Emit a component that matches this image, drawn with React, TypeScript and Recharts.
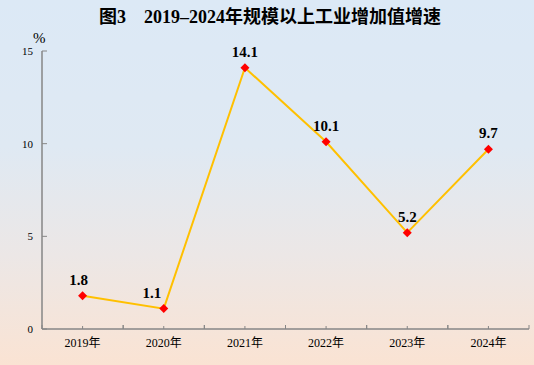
import { LineChart, Line, XAxis, YAxis, LabelList } from 'recharts'

const years = ['2019年', '2020年', '2021年', '2022年', '2023年', '2024年']
const growth = [1.8, 1.1, 14.1, 10.1, 5.2, 9.7]
const yTicks = [0, 5, 10, 15]
// 2020 label sits to the left of its point in the source
const labelShift = [-4, -12, 0, 0, 0, 0]

const data = years.map((year, i) => ({ year, value: growth[i] }))

const W = 534
const H = 365
const margin = { top: 51, right: 5, left: 12, bottom: 6 }
const yAxisWidth = 30
const band = (W - margin.left - margin.right - yAxisWidth) / years.length

const serif = 'Liberation Serif, Times New Roman, DejaVu Serif, Noto Sans CJK SC, serif'
const axisGray = '#868686'

function YTick(props: any) {
  const { x, y, payload } = props
  return (
    <g>
      <line x1={x + 9} x2={x + 14} y1={y} y2={y} stroke={axisGray} />
      <text x={x} y={y + 4} textAnchor="end" fontSize={11} fontFamily={serif} fill="#000">
        {payload.value}
      </text>
    </g>
  )
}

function XTick(props: any) {
  const { x, y, payload } = props
  return (
    <g>
      <line x1={x} x2={x} y1={y} y2={y - 3} stroke={axisGray} />
      <line x1={x - band / 2} x2={x - band / 2} y1={y} y2={y - 4} stroke={axisGray} />
      <line x1={x + band / 2} x2={x + band / 2} y1={y} y2={y - 4} stroke={axisGray} />
      <text x={x} y={y + 18} textAnchor="middle" fontSize={12} fontFamily={serif} fill="#000">
        {payload.value}
      </text>
    </g>
  )
}

function Diamond(props: any) {
  const { cx, cy, index } = props
  const r = 4.5
  return (
    <polygon
      key={`d-${index}`}
      points={`${cx},${cy - r} ${cx + r},${cy} ${cx},${cy + r} ${cx - r},${cy}`}
      fill="#FF0000"
    />
  )
}

function ValueLabel(props: any) {
  const { x, y, value, index } = props
  return (
    <text
      x={x + (labelShift[index] || 0)}
      y={y - 11}
      textAnchor="middle"
      fontSize={15}
      fontWeight="bold"
      fontFamily={serif}
      fill="#000"
    >
      {value}
    </text>
  )
}

export default function App() {
  return (
    <div
      style={{
        position: 'fixed',
        left: 0,
        top: 0,
        width: W,
        height: H,
        background: 'linear-gradient(to bottom, #dce9f6 0%, #dfe9f3 40%, #ece7e6 70%, #fae3d3 100%)',
      }}
    >
      <div
        style={{
          position: 'absolute',
          left: 0,
          top: 5,
          width: 540,
          textAlign: 'center',
          fontFamily: serif,
          fontWeight: 'bold',
          fontSize: 18,
          lineHeight: '24px',
          color: '#000',
        }}
      >
        图3　2019–2024年规模以上工业增加值增速
      </div>
      <div
        style={{
          position: 'absolute',
          left: 33,
          top: 30,
          fontFamily: serif,
          fontSize: 15,
          color: '#000',
        }}
      >
        %
      </div>
      <div style={{ position: 'absolute', left: 0, top: 0 }}>
        <LineChart width={W} height={H} data={data} margin={margin}>
          <XAxis
            dataKey="year"
            scale="band"
            height={30}
            axisLine={{ stroke: axisGray, strokeWidth: 1.5 }}
            tickLine={false}
            tickSize={0}
            tickMargin={0}
            tick={<XTick />}
            interval={0}
          />
          <YAxis
            width={yAxisWidth}
            domain={[0, 15]}
            ticks={yTicks}
            axisLine={{ stroke: axisGray, strokeWidth: 1.5 }}
            tickLine={false}
            tickSize={0}
            tickMargin={9}
            tick={<YTick />}
            interval={0}
          />
          <Line
            dataKey="value"
            stroke="#FFC000"
            strokeWidth={2}
            dot={Diamond}
            activeDot={false}
            isAnimationActive={false}
          >
            <LabelList dataKey="value" content={ValueLabel} />
          </Line>
        </LineChart>
      </div>
    </div>
  )
}
